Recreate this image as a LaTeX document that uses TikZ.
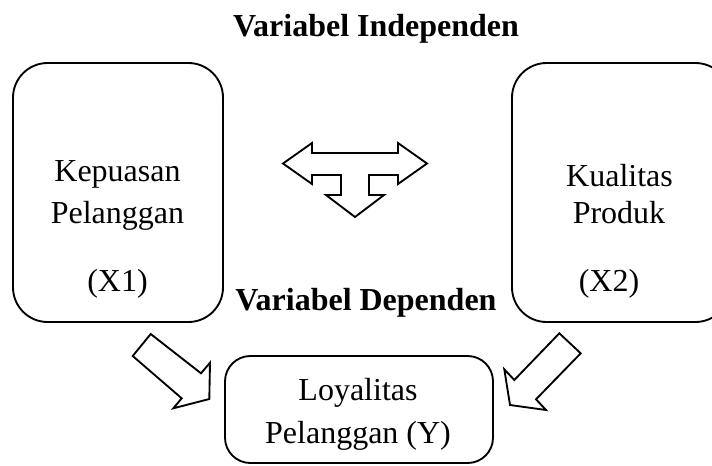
\documentclass[tikz,border=0pt]{standalone}
\usepackage{fontspec}
\setmainfont{Liberation Serif}
\begin{document}
\begin{tikzpicture}[x=0.75pt,y=-0.75pt,
  box/.style={draw,line width=1.4pt,rounded corners=26pt,inner sep=0pt,fill=white},
  txt/.style={font=\fontsize{24}{29}\selectfont,inner sep=0pt,anchor=base},
  ttl/.style={font=\fontsize{24}{29}\selectfont\bfseries,inner sep=0pt,anchor=base},
  blk/.style={draw,line width=1.4pt,fill=white,line join=miter}]
\clip (0,0) rectangle (712,465);
\useasboundingbox (0,0) rectangle (712,465);
% boxes
\node[box,minimum width=157.5pt,minimum height=194.25pt] (x1) at (118,192.5) {};
\node[box,minimum width=163.5pt,minimum height=194.25pt] (x2) at (621,192.5) {};
\node[box,rounded corners=19pt,minimum width=201pt,minimum height=80.25pt] (y) at (359,409.5) {};
% titles
\node[ttl] (t1) at (376,36) {Variabel Independen};
\node[ttl] (t2) at (366,310) {Variabel Dependen};
% texts
\node[txt] (k1) at (117.5,181) {Kepuasan};
\node[txt] (k2) at (117.5,223) {Pelanggan};
\node[txt] (k3) at (117.5,291) {(X1)};
\node[txt] (q1) at (619.5,186) {Kualitas};
\node[txt] (q2) at (619,223) {Produk};
\node[txt] (q3) at (609,291) {(X2)};
\node[txt] (l1) at (358,400) {Loyalitas};
\node[txt] (l2) at (358,443) {Pelanggan (Y)};
% three-way block arrow
\draw[blk] (283,163.5) -- (312,143) -- (312,153) -- (398,153) -- (398,143) -- (427,163.5)
  -- (398,184) -- (398,175) -- (369,175) -- (369,195) -- (384,195) -- (355,217)
  -- (326,195) -- (341,195) -- (341,175) -- (312,175) -- (312,184) -- cycle;
% diagonal block arrows
\draw[blk] (150.7,334) -- (132.7,356) -- (181.7,398.3) -- (173.3,408.3) -- (209.3,399)
  -- (210,362.7) -- (201,373.3) -- cycle;
\draw[blk] (559.3,333.3) -- (580.7,353.3) -- (536,399.3) -- (546,410) -- (510,405)
  -- (504.3,369.3) -- (514.3,380) -- cycle;
\end{tikzpicture}
\end{document}
